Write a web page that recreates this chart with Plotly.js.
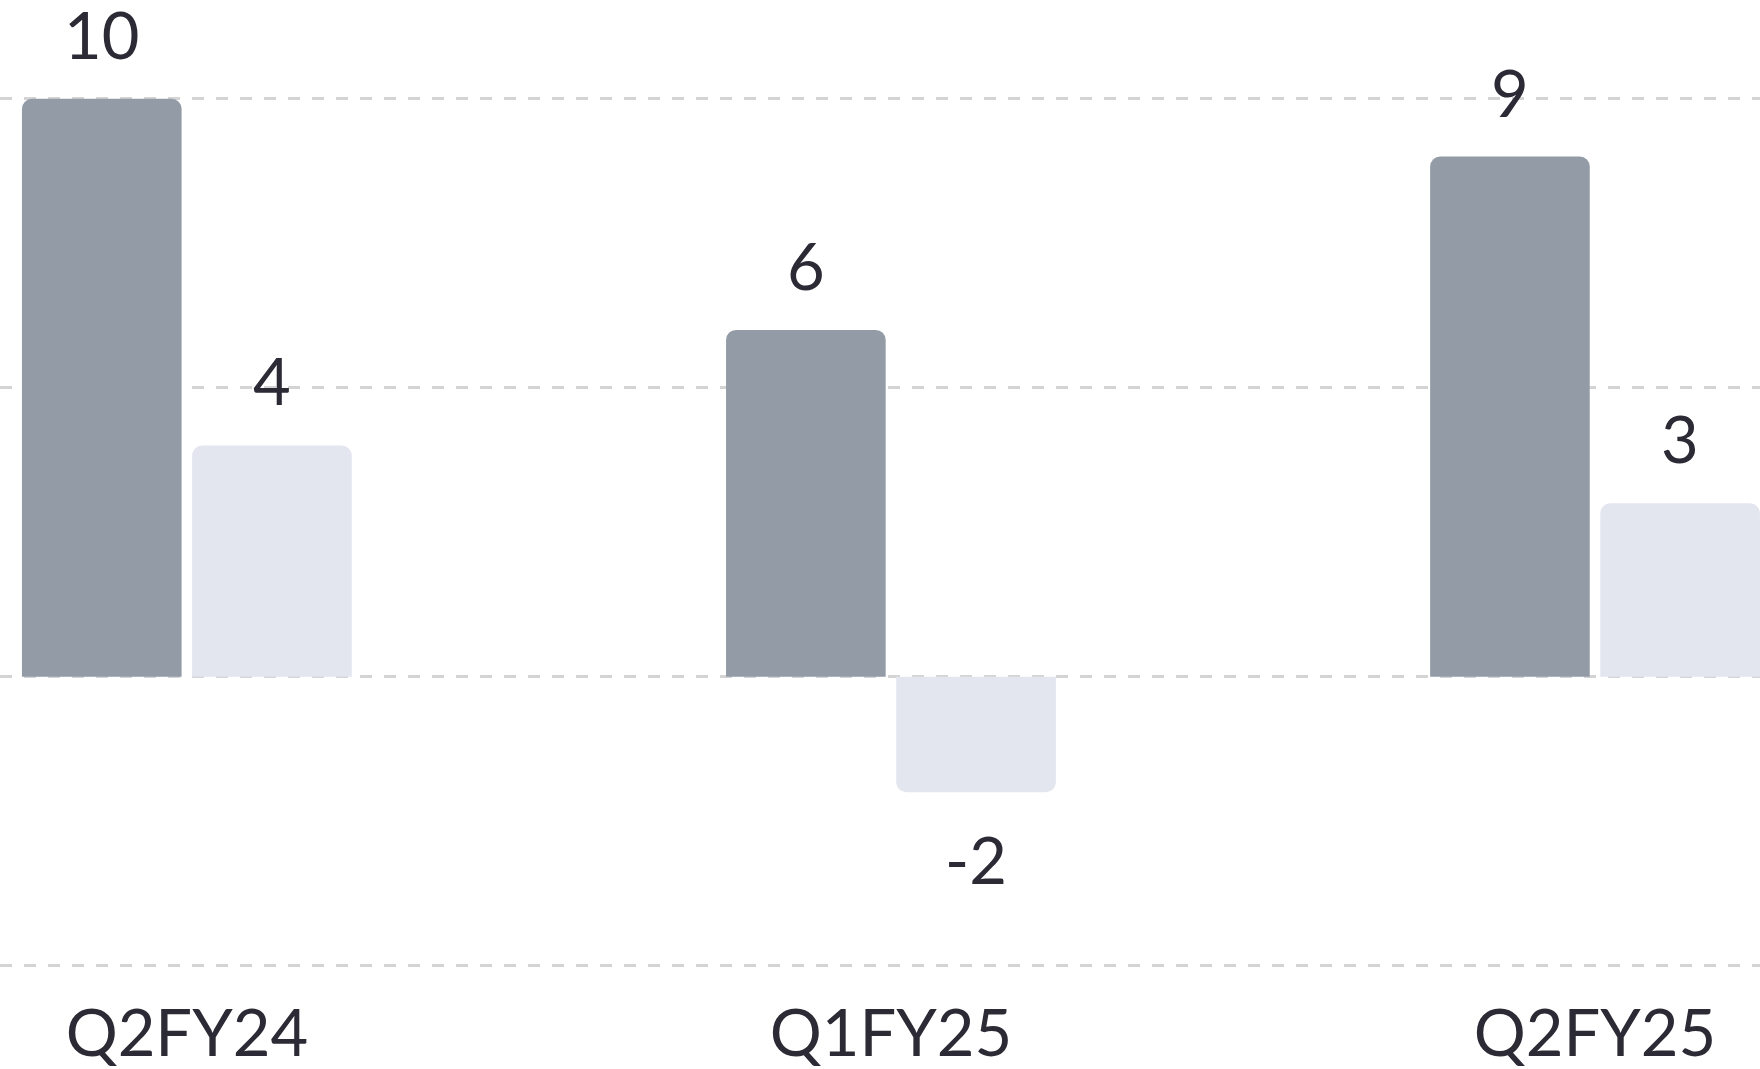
<!DOCTYPE html>
<html>
<head>
<meta charset="utf-8">
<script src="https://cdn.plot.ly/plotly-3.0.1.min.js"></script>
<style>
  html, body { margin: 0; padding: 0; background: #ffffff; }
  #chart { width: 1760px; height: 1069px; }
</style>
</head>
<body>
<div id="chart"></div>
<script>
// ---- data ----
const categories = ['Q2FY24', 'Q1FY25', 'Q2FY25'];
const seriesDark = [10, 6, 9];
const seriesLight = [4, -2, 3];
const yTicks = [-5, 0, 5, 10];

// ---- style ----
const FONT = 'Lato, "Noto Sans", sans-serif';
const TEXT_COLOR = '#2b2a35';
const DARK = '#939ca6';
const LIGHT = '#e3e6ef';
const BARGAP = 0.5166;
const BARGROUPGAP = 0.062;

const traces = [
  {
    type: 'bar', x: categories, y: seriesDark,
    marker: { color: DARK, cornerradius: 10, line: { width: 0 } },
    hoverinfo: 'skip', showlegend: false
  },
  {
    type: 'bar', x: categories, y: seriesLight,
    marker: { color: LIGHT, cornerradius: 10, line: { width: 0 } },
    hoverinfo: 'skip', showlegend: false
  }
];

// value labels positioned via the axes' data coordinates
const slot = (1 - BARGAP) / 2;
const annotations = [];
[seriesDark, seriesLight].forEach(function (vals, t) {
  vals.forEach(function (v, i) {
    annotations.push({
      x: i + (t - 0.5) * slot, y: v, xref: 'x', yref: 'y',
      text: String(v), showarrow: false,
      xanchor: 'center', yanchor: v >= 0 ? 'bottom' : 'top',
      yshift: v >= 0 ? 24 : -26,
      font: { family: FONT, size: 65, color: TEXT_COLOR }
    });
  });
});

const layout = {
  width: 1760, height: 1069,
  margin: { l: 0, r: 0, t: 0, b: 86 },
  paper_bgcolor: '#ffffff', plot_bgcolor: '#ffffff',
  barmode: 'group', bargap: BARGAP, bargroupgap: BARGROUPGAP,
  showlegend: false,
  font: { family: FONT, color: TEXT_COLOR },
  xaxis: {
    type: 'category', range: [-0.2654, 2.2343],
    showgrid: false, zeroline: false, showline: false, ticks: '',
    tickfont: { family: FONT, size: 65, color: TEXT_COLOR },
    ticklabelstandoff: 7, automargin: false, fixedrange: true
  },
  yaxis: {
    range: [-5.3, 11.708], tickvals: yTicks, showticklabels: false,
    showgrid: true, gridcolor: '#d4d4d4', gridwidth: 3, griddash: '12px,12px',
    zeroline: false, showline: false, ticks: '', automargin: false, fixedrange: true
  },
  annotations: annotations
};

Plotly.newPlot('chart', traces, layout, { staticPlot: true, displayModeBar: false });
</script>
</body>
</html>
